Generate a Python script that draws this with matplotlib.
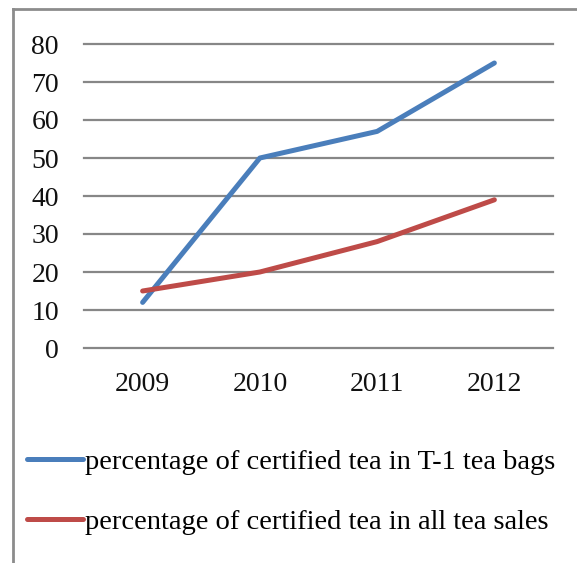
import matplotlib.pyplot as plt
from matplotlib.lines import Line2D

years = ["2009", "2010", "2011", "2012"]
t1_bags = [12, 50, 57, 75]
all_sales = [15, 20, 28, 39]
labels = ["percentage of certified tea in T-1 tea bags",
          "percentage of certified tea in all tea sales"]

W, H = 577, 563
fig = plt.figure(figsize=(W / 100, H / 100), dpi=100)
plt.rcParams['font.family'] = ['Liberation Serif', 'DejaVu Serif']

ax = fig.add_axes([84 / W, 1 - 348 / H, (553 - 84) / W, (348 - 44) / H])
x = range(len(years))
l1, = ax.plot(x, t1_bags, color="#4A7EBB", lw=3.6, solid_capstyle="round", solid_joinstyle="round")
l2, = ax.plot(x, all_sales, color="#BE4B48", lw=3.6, solid_capstyle="round", solid_joinstyle="round")

ax.set_xlim(-0.5, 3.5)
ax.set_ylim(0, 80)
ax.set_yticks(range(0, 81, 10))
ax.set_xticks(list(x))
ax.set_xticklabels(years)
for y in range(0, 81, 10):
    ax.axhline(y, color="#878787", lw=1.6, zorder=0, clip_on=False)
for s in ax.spines.values():
    s.set_visible(False)
ax.tick_params(length=0, labelsize=20, colors="#111111")
ax.tick_params(axis="y", pad=18)
ax.tick_params(axis="x", pad=17)

fig.legend([l1, l2], labels, loc="upper left", bbox_to_anchor=(27 / W, 1 - 449 / H),
           frameon=False, fontsize=20.5, handlelength=1.95, handletextpad=0.1,
           labelspacing=1.2, borderpad=0, borderaxespad=0)

# outer frame (left and top edges)
fig.add_artist(Line2D([12.5 / W, 12.5 / W], [0, 1 - 9 / H], color="#8c8c8c", lw=2))
fig.add_artist(Line2D([12.5 / W, 1], [1 - 9 / H, 1 - 9 / H], color="#8c8c8c", lw=2))

fig.savefig("out.png", dpi=100)
